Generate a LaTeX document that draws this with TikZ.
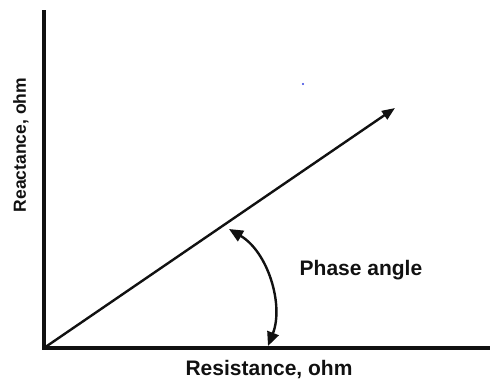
\documentclass[tikz,border=0pt]{standalone}
\usepackage{fontspec}
\setmainfont{Liberation Sans}
\usetikzlibrary{arrows.meta}
\definecolor{Ink}{HTML}{111111}
\definecolor{Dot}{HTML}{3340E0}

\begin{document}
\begin{tikzpicture}[x=1pt,y=-1pt,
    axis/.style={line width=3.6pt,Ink},
    vec/.style={line width=2.4pt,Ink,-{Triangle[length=13pt,width=10pt]}},
    angarrow/.style={line width=2.4pt,Ink,{Triangle[length=14pt,width=12pt]}-{Triangle[length=14pt,width=12pt]}},
    lbl/.style={font=\bfseries\fontsize{21}{24}\selectfont,text=Ink,inner sep=0pt}]
    \useasboundingbox (0,0) rectangle (490,380);
    \coordinate (top) at (44,10);
    \coordinate (origin) at (44,348);
    \coordinate (right) at (490,348);
    \coordinate (tip) at (395,108);
    \coordinate (angtop) at (229,229);
    \coordinate (angbot) at (268,346);
    \draw[axis] (top)--(origin)--(right);
    \draw[vec] (origin)--(tip);
    \draw[angarrow] (angtop) .. controls (268,252) and (284,305) .. (angbot);
    \fill[Dot] (303,84) circle (1.1pt);
    \node[lbl] (phase) at (361,270) {Phase angle};
    \node[lbl] (xlabel) at (269,370) {Resistance, ohm};
    \node[lbl,rotate=90,font=\bfseries\fontsize{17.5}{20}\selectfont] (ylabel) at (21,145) {Reactance, ohm};
  \end{tikzpicture}
\end{document}
